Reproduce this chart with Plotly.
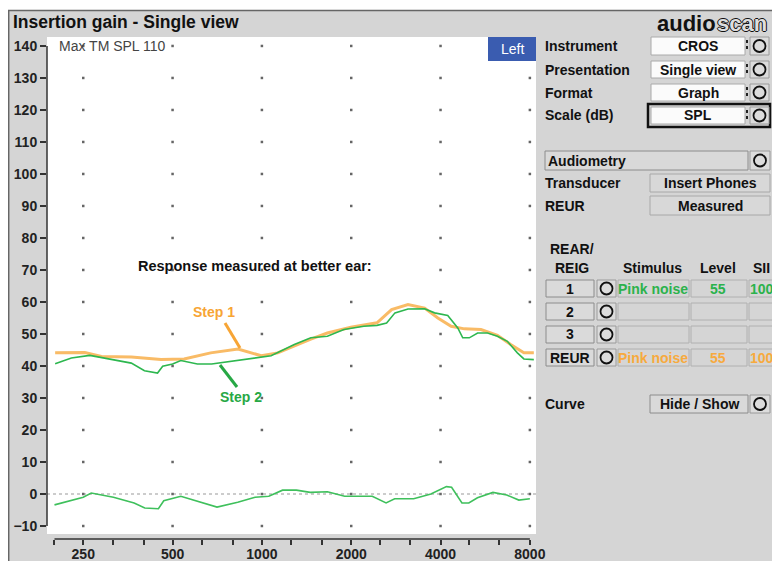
import math
import plotly.graph_objects as go

# ---------------- data ----------------
step1_freq = [201, 253, 288, 363, 457, 547, 672, 831, 995, 1131, 1462, 1662, 1995, 2443,
              2736, 3107, 3535, 3918, 4343, 4812, 5474, 6220, 6893, 7637, 8250]
step1_db = [44.1, 44.2, 43.0, 42.8, 42.0, 42.2, 44.1, 45.3, 43.2, 44.1, 48.4, 50.3, 52.1, 53.5,
            57.6, 59.2, 58.1, 55.0, 52.4, 51.6, 51.4, 49.6, 46.7, 44.1, 44.1]

step2_freq = [201, 228, 263, 295, 363, 402, 445, 463, 500, 533, 606, 677, 875, 1074, 1286,
              1462, 1662, 1890, 2205, 2443, 2632, 2809, 3107, 3535, 3819, 4230, 4572, 4752,
              5000, 5333, 5761, 6220, 6717, 7261, 7637, 8250]
step2_db = [40.7, 42.5, 43.3, 42.5, 40.9, 38.5, 37.8, 39.9, 40.6, 41.7, 40.6, 40.6, 42.0, 43.2, 46.7,
            48.8, 49.3, 51.4, 52.4, 52.7, 53.4, 56.6, 57.8, 57.9, 56.6, 55.8, 51.9, 48.8,
            48.8, 50.3, 50.3, 49.3, 47.7, 44.1, 42.2, 42.0]

diff_freq = [200, 250, 266, 316, 371, 403, 448, 467, 533, 618, 706, 829, 948, 1055, 1174,
             1307, 1455, 1663, 1901, 2355, 2621, 2802, 3247, 3711, 4187, 4358, 4723, 4982,
             5327, 6007, 6686, 7343, 8000]
diff_db = [-3.4, -1.0, 0.3, -1.0, -2.8, -4.4, -4.6, -2.1, -0.7, -2.6, -4.1, -2.6, -1.0, -0.7, 1.2,
           1.2, 0.5, 0.7, -0.7, -0.7, -2.8, -1.5, -1.5, 0.0, 2.3, 2.1, -2.8, -2.8,
           -1.2, 0.5, -0.3, -1.9, -1.5]

octave_freqs = [250, 500, 1000, 2000, 4000, 8000]
octave_labels = ["250", "500", "1000", "2000", "4000", "8000"]
third_octave_freqs = [200, 250, 315, 400, 500, 630, 800, 1000, 1250, 1600, 2000, 2500,
                      3150, 4000, 5000, 6300, 8000]
db_ticks = list(range(-10, 141, 10))

# ---------------- style ----------------
GRAY = "#d5d5d5"
ORANGE = "#f8b04c"
GREEN = "#2db74f"
FONT = "Liberation Sans, Arial, sans-serif"
UI = 14

# The page has an 8px body margin, so screen coordinates = figure coordinates + 8.
OFF = 8
W, H = 772, 561
AXIS_Y = 539           # screen y of the x-axis ruler line
ML = 47 - OFF          # plot left at screen x=47
MR = W - (536 - OFF)   # plot right at screen x=536
MT = 37 - OFF          # plot top at screen y=37
MB = H - (AXIS_Y - OFF)
PW = W - ML - MR
PH = H - MT - MB
PLOT_BOTTOM = 534      # screen y of white plot bottom


def px(x):  # screen x -> paper
    return (x - OFF - ML) / PW


def py(y):  # screen y -> paper
    return (H - MB - (y - OFF)) / PH


shapes = []
annotations = []


def rect(x0, y0, x1, y1, fill, line="#999999", width=1):
    shapes.append(dict(type="rect", xref="paper", yref="paper", x0=px(x0), x1=px(x1),
                       y0=py(y1), y1=py(y0), fillcolor=fill,
                       line=dict(color=line, width=width), layer="above"))


def circle(cx, cy, r=6):
    shapes.append(dict(type="circle", xref="paper", yref="paper", x0=px(cx - r), x1=px(cx + r),
                       y0=py(cy + r), y1=py(cy - r), line=dict(color="#111", width=1.8),
                       layer="above"))


def text(x, y, s, size=UI, color="#111", anchor="left", bold=True, shadow=None):
    f = dict(family=FONT, size=size, color=color)
    if shadow:
        f["shadow"] = shadow
    annotations.append(dict(xref="paper", yref="paper", x=px(x), y=py(y),
                            text=("<b>%s</b>" % s) if bold else s, showarrow=False,
                            xanchor=anchor, yanchor="middle", font=f, borderpad=0))


def line(x0, y0, x1, y1, color, width=1.5, dash=None):
    d = dict(color=color, width=width)
    if dash:
        d["dash"] = dash
    shapes.append(dict(type="line", xref="paper", yref="paper", x0=px(x0), x1=px(x1),
                       y0=py(y0), y1=py(y1), line=d, layer="above"))


# frame
rect(8, 8, W + 8, 10, "white", "white", 0)
line(8, 10.5, W + 8, 10.5, "#666", 1.5)
line(8.7, 10, 8.7, H + 8, "#666", 1.5)

# title and logo
text(12, 22, "Insertion gain - Single view", size=17.5)
text(717, 23, "audio", size=22, anchor="right")
text(716, 23, "scan", size=22, color="#dedede", anchor="left",
     shadow="1px 0 0 #111, -1px 0 0 #111, 0 1px 0 #111, 0 -1px 0 #111")

# axis decorations
shapes.append(dict(type="line", xref="x", yref="paper", x0=third_octave_freqs[0],
                   x1=third_octave_freqs[-1], y0=0, y1=0, line=dict(color="#333", width=1.5)))
shapes.append(dict(type="line", xref="paper", yref="y", x0=0, x1=0, y0=db_ticks[0],
                   y1=db_ticks[-1], line=dict(color="#333", width=1.5)))
shapes.append(dict(type="line", xref="x domain", yref="y", x0=0, x1=1, y0=0, y1=0,
                   line=dict(color="#999", width=1.2, dash="dot"), layer="below"))

# plot texts
text(58, 46, "Max TM SPL 110", size=14, color="#444", bold=False)
rect(488, 37, 536, 61, "#3a5cb0", "#3a5cb0", 0)
text(512, 49, "Left", size=14, color="white", anchor="center", bold=False)
text(255, 266, "Response measured at better ear:", size=14.5, anchor="center")
text(214, 312, "Step 1", size=14, color="#f7a535", anchor="center")
line(225, 323, 240, 348, "#f7a535", 3)
text(241, 397, "Step 2", size=14, color="#27a845", anchor="center")
line(220, 365, 237, 387, "#27a845", 3)

# right panel: dropdowns
rows = [("Instrument", "CROS", 37, 55), ("Presentation", "Single view", 61, 78),
        ("Format", "Graph", 84, 101), ("Scale (dB)", "SPL", 107, 124)]
rect(648, 104, 770, 127, GRAY, "#111", 2.5)
for lab, val, y0, y1 in rows:
    cy = (y0 + y1) / 2
    text(544, cy, lab)
    rect(651, y0, 745, y1, "#fbfbfb", "#aaaaaa", 1)
    text(698, cy, val, anchor="center")
    line(747, y0 + 3, 747, y1 - 3, "#222", 2, "dot")
    rect(750, y0, 769, y1, "#dcdcdc", "#9a9a9a", 1)
    circle(759.5, cy)

# audiometry
rect(545, 151, 748, 170, "#d9d9d9", "#8c8c8c", 1)
text(547, 160.5, "Audiometry")
rect(750, 151, 770, 170, "#dcdcdc", "#9a9a9a", 1)
circle(760, 160.5)
text(544, 183, "Transducer")
rect(650, 174, 770, 192, "#d8d8d8", "#a8a8a8", 1)
text(710, 183, "Insert Phones", anchor="center")
text(544, 205.5, "REUR")
rect(650, 196, 770, 215, "#d8d8d8", "#a8a8a8", 1)
text(710, 205.5, "Measured", anchor="center")

# table
text(572, 249, "REAR/", anchor="center")
text(572, 268, "REIG", anchor="center")
text(652, 268, "Stimulus", anchor="center")
text(718, 268, "Level", anchor="center")
text(761, 268, "SII", anchor="center")
table_rows = [("1", "Pink noise", "55", "100", "#2bb24c"), ("2", "", "", "", "#111"),
              ("3", "", "", "", "#111"), ("REUR", "Pink noise", "55", "100", "#f7aa3e")]
for i, (lab, stim, lev, sii, col) in enumerate(table_rows):
    y0 = 280 + 23 * i
    y1 = y0 + 17
    cy = (y0 + y1) / 2
    rect(546, y0, 594, y1, "#dadada", "#8c8c8c", 1)
    text(570, cy, lab, anchor="center")
    rect(597, y0, 616, y1, "#dcdcdc", "#9a9a9a", 1)
    circle(606.5, cy)
    rect(618, y0, 689, y1, GRAY, "#b0b0b0", 1)
    rect(691, y0, 747, y1, GRAY, "#b0b0b0", 1)
    rect(749, y0, 775, y1, GRAY, "#b0b0b0", 1)
    if stim:
        text(653, cy, stim, color=col, anchor="center")
        text(718, cy, lev, color=col, anchor="center")
        text(749, cy, sii, color=col, anchor="left")

text(544, 404, "Curve")
rect(650, 395, 748, 413, "#d9d9d9", "#8c8c8c", 1)
text(699, 404, "Hide / Show", anchor="center")
rect(750, 395, 770, 413, "#dcdcdc", "#9a9a9a", 1)
circle(760, 404)

# ---------------- traces ----------------
fig = go.Figure()
gx = [f for d in db_ticks for f in octave_freqs]
gy = [d for d in db_ticks for f in octave_freqs]
fig.add_trace(go.Scatter(x=gx, y=gy, mode="markers", hoverinfo="skip",
                         marker=dict(size=2.5, color="#666", symbol="square")))
fig.add_trace(go.Scatter(x=diff_freq, y=diff_db, mode="lines",
                         line=dict(color="#3fc05c", width=1.6)))
fig.add_trace(go.Scatter(x=step1_freq, y=step1_db, mode="lines", opacity=0.85,
                         line=dict(color=ORANGE, width=3)))
fig.add_trace(go.Scatter(x=step2_freq, y=step2_db, mode="lines",
                         line=dict(color=GREEN, width=1.6)))

x_lo = math.log10(188.7)
x_hi = math.log10(8390)
ticktext = [octave_labels[octave_freqs.index(f)] if f in octave_freqs else ""
            for f in third_octave_freqs]

fig.update_layout(
    width=W, height=H,
    margin=dict(l=ML, r=MR, t=MT, b=MB, pad=0, autoexpand=False),
    paper_bgcolor=GRAY, plot_bgcolor="white", showlegend=False,
    shapes=shapes, annotations=annotations,
    xaxis=dict(type="log", range=[x_lo, x_hi], anchor="free", position=0,
               tickmode="array", tickvals=third_octave_freqs, ticktext=ticktext,
               ticks="outside", ticklen=5, tickwidth=1.5, tickcolor="#333",
               ticklabelstandoff=-3,
               showgrid=False, zeroline=False, showline=False, fixedrange=True,
               tickfont=dict(family=FONT, size=14, color="#222", weight="bold")),
    yaxis=dict(range=[-12.5, 142.8], domain=[(AXIS_Y - PLOT_BOTTOM) / PH, 1],
               tickmode="array", tickvals=db_ticks, ticks="outside", ticklen=6,
               tickwidth=1.5, tickcolor="#333", showgrid=False, zeroline=False,
               showline=False, fixedrange=True,
               tickfont=dict(family=FONT, size=14, color="#222", weight="bold")),
)

fig.write_html(
    "out.html",
    config={"responsive": False},
    post_script="document.documentElement.style.overflow='hidden';"
                "document.body.style.width='800px';",
)
